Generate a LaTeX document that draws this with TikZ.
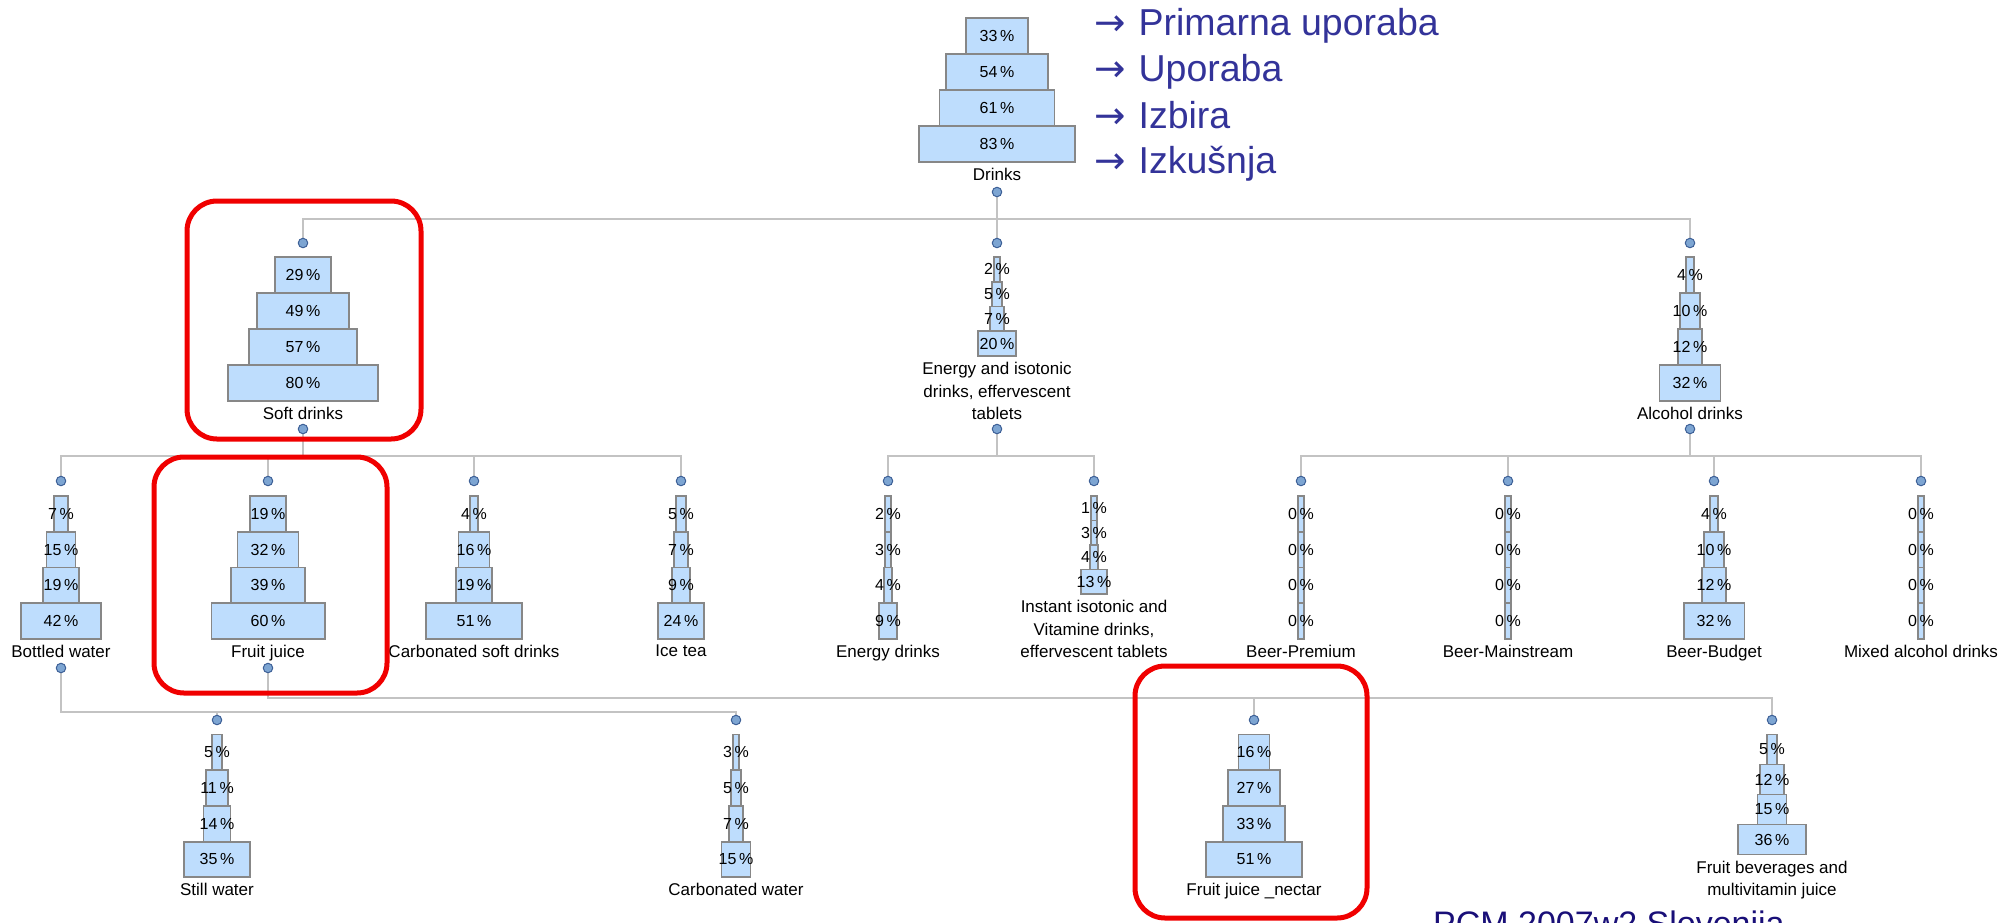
\documentclass[tikz,border=0pt]{standalone}
\usepackage{fontspec}
\setmainfont{Liberation Sans}
\newfontfamily\arrowfont{DejaVu Sans}
\pgfdeclarelayer{wires}
\pgfsetlayers{wires,main}

\definecolor{barfill}{RGB}{190,221,253}
\definecolor{barline}{RGB}{135,135,135}
\definecolor{wire}{RGB}{195,195,195}
\definecolor{dotfill}{RGB}{125,165,210}
\definecolor{dotline}{RGB}{60,95,150}
\definecolor{legendblue}{RGB}{51,51,153}
\definecolor{navy}{RGB}{25,15,120}
\definecolor{frame}{RGB}{240,0,0}

% one pyramid: name, x, top y, bar height, four percentages, caption
\newcommand{\bevpyr}[6]{%
  \foreach \p [count=\i] in {#5} {%
    \pgfmathsetmacro{\w}{max(6.5,1.87*\p+1)}%
    \node[bar, minimum width=\w pt, minimum height=#4 pt] (#1-\i) at (#2,{#3+(\i-0.5)*#4}) {};
    \node[pct] (#1-\i-v) at (#1-\i) {\p\,\%};
  }
  \node[lab] (#1-l) at (#2,{#3+4*#4+6}) {#6};
}
% arrow in front of each legend line
\newcommand{\legarrow}{{\arrowfont →}\hspace{13pt}}

\begin{document}
\begin{tikzpicture}[x=1pt,y=-1pt,
  bar/.style={draw=barline, fill=barfill, line width=1.8pt, inner sep=0pt, outer sep=0pt},
  pct/.style={font=\fontsize{16}{18}\selectfont, inner sep=0pt},
  lab/.style={font=\fontsize{17}{22.5}\selectfont, align=center, anchor=north, inner sep=0pt},
  dot/.style={circle, draw=dotline, fill=dotfill, line width=1pt, minimum size=9.5pt, inner sep=0pt},
  conn/.style={draw=wire, line width=2pt},
  hl/.style={draw=frame, line width=5pt, rounded corners=30pt},
  legend/.style={font=\fontsize{37.5}{44}\selectfont, text=legendblue, anchor=base west, inner sep=0pt}]

\useasboundingbox (0,0) rectangle (2000,922);
\clip (0,0) rectangle (2000,922);

% levels of the horizontal wires
\coordinate (h1) at (0,219);
\coordinate (h2) at (0,456);
\coordinate (h3) at (0,698);
\coordinate (h4) at (0,712);

% top level
\bevpyr{dr}{997}{18}{36}{33,54,61,83}{Drinks}
\node[dot] (dr-b) at (997,192) {};

% second level
\bevpyr{sd}{303}{257}{36}{29,49,57,80}{Soft drinks}
\bevpyr{en}{997}{257}{24.75}{2,5,7,20}{Energy and isotonic\\drinks, effervescent\\tablets}
\bevpyr{al}{1690}{257}{36}{4,10,12,32}{Alcohol drinks}
\foreach \n/\x in {sd/303,en/997,al/1690} {
  \node[dot] (\n-t) at (\x,243) {};
  \node[dot] (\n-b) at (\x,429) {};
}

% third level
\bevpyr{bw}{61}{496}{35.7}{7,15,19,42}{Bottled water}
\bevpyr{fj}{268}{496}{35.7}{19,32,39,60}{Fruit juice}
\bevpyr{cs}{474}{496}{35.7}{4,16,19,51}{Carbonated soft drinks}
\bevpyr{it}{681}{496}{35.7}{5,7,9,24}{Ice tea}
\bevpyr{ed}{888}{496}{35.7}{2,3,4,9}{Energy drinks}
\bevpyr{ii}{1094}{496}{24.5}{1,3,4,13}{Instant isotonic and\\Vitamine drinks,\\effervescent tablets}
\bevpyr{bp}{1301}{496}{35.7}{0,0,0,0}{Beer-Premium}
\bevpyr{bm}{1508}{496}{35.7}{0,0,0,0}{Beer-Mainstream}
\bevpyr{bb}{1714}{496}{35.7}{4,10,12,32}{Beer-Budget}
\bevpyr{ma}{1921}{496}{35.7}{0,0,0,0}{Mixed alcohol drinks}
\foreach \n/\x in {bw/61,fj/268,cs/474,it/681,ed/888,ii/1094,bp/1301,bm/1508,bb/1714,ma/1921} {
  \node[dot] (\n-t) at (\x,481) {};
}
\node[dot] (bw-b) at (61,668) {};
\node[dot] (fj-b) at (268,668) {};

% fourth level
\bevpyr{sw}{217}{734.5}{35.7}{5,11,14,35}{Still water}
\bevpyr{cw}{736}{734.5}{35.7}{3,5,7,15}{Carbonated water}
\bevpyr{fn}{1254}{734.5}{35.7}{16,27,33,51}{Fruit juice \_nectar}
\bevpyr{fb}{1772}{734.5}{30}{5,12,15,36}{Fruit beverages and\\multivitamin juice}
\foreach \n/\x in {sw/217,cw/736,fn/1254,fb/1772} {
  \node[dot] (\n-t) at (\x,720) {};
}

% tree wiring
\begin{pgfonlayer}{wires}
  \foreach \c in {sd,en,al} \draw[conn] (dr-b) -- (dr-b |- h1) -| (\c-t);
  \foreach \c in {bw,fj,cs,it} \draw[conn] (sd-b) -- (sd-b |- h2) -| (\c-t);
  \foreach \c in {ed,ii} \draw[conn] (en-b) -- (en-b |- h2) -| (\c-t);
  \foreach \c in {bp,bm,bb,ma} \draw[conn] (al-b) -- (al-b |- h2) -| (\c-t);
  \foreach \c in {fn,fb} \draw[conn] (fj-b) -- (fj-b |- h3) -| (\c-t);
  \foreach \c in {sw,cw} \draw[conn] (bw-b) -- (bw-b |- h4) -| (\c-t);
\end{pgfonlayer}

% highlighted categories
\draw[hl] (187,201) rectangle (421,439);
\draw[hl] (154,457) rectangle (387,693);
\draw[hl] (1135,666) rectangle (1367,918);

% legend of the four levels
\node[legend] (lg1) at (1094,35) {\legarrow Primarna uporaba};
\node[legend] (lg2) at (1094,81.5) {\legarrow Uporaba};
\node[legend] (lg3) at (1094,128) {\legarrow Izbira};
\node[legend] (lg4) at (1094,173.5) {\legarrow Izkušnja};

% source line along the lower edge
\node[font=\fontsize{34}{40}\selectfont, text=navy, anchor=base west, inner sep=0pt] (src) at (1433,935) {PCM 2007w2 Slovenija};
\end{tikzpicture}
\end{document}
